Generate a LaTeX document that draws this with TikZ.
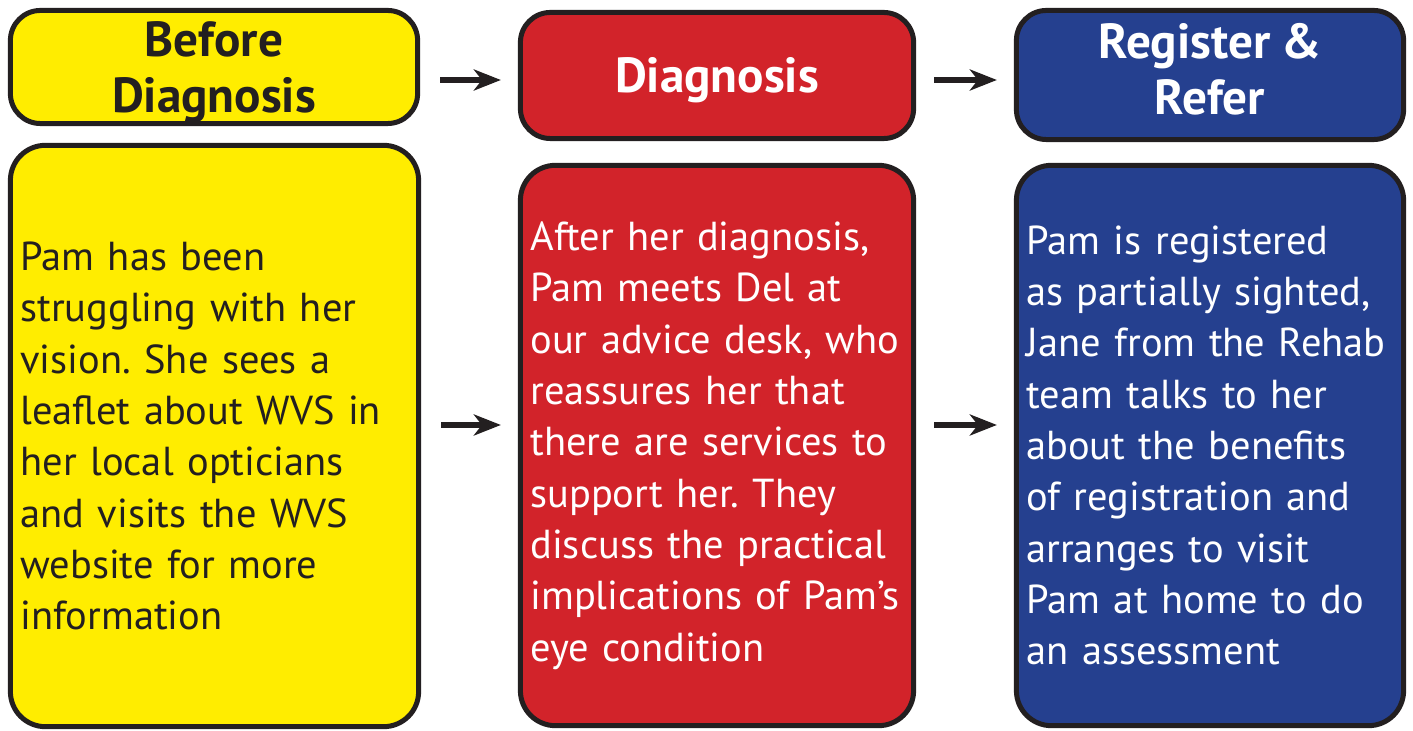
\documentclass[tikz,border=0pt]{standalone}
\usepackage{fontspec}
\setmainfont{PT Sans}[WordSpace=0.85]
\usetikzlibrary{positioning, arrows.meta}
\definecolor{wvsyellow}{HTML}{FFED00}
\definecolor{wvsred}{HTML}{D2232A}
\definecolor{wvsblue}{HTML}{25408F}
\definecolor{wvsline}{HTML}{231F20}
\frenchspacing
\begin{document}
\begin{tikzpicture}[x=0.01cm, y=-0.01cm,
  stage/.style={draw=wvsline, line width=0.05cm, rounded corners=0.3cm, align=center, inner sep=0pt, text depth=0pt,
    font=\bfseries\fontsize{14}{16}\selectfont},
  story/.style={draw=wvsline, line width=0.05cm, rounded corners=0.35cm, align=left, inner xsep=0.1cm,
    font=\fontsize{11.5}{14.6}\selectfont},
  flow/.style={-{Stealth[length=0.27cm, width=0.21cm, inset=0.08cm]}, line width=0.06cm, draw=wvsline},
]
  \useasboundingbox (0,0) rectangle (1413,731);

  % headers
  \node[stage, fill=wvsyellow, text=wvsline, minimum width=4.07cm, minimum height=1.13cm] (before) at (214,67) {Before\\Diagnosis};
  \node[stage, fill=wvsred, text=white, minimum width=3.93cm, minimum height=1.26cm] (diag) at (717,75.5) {Diagnosis};
  \node[stage, fill=wvsblue, text=white, minimum width=3.87cm, minimum height=1.29cm, text depth=0.12cm] (refer) at (1210,75) {Register \&\\Refer};

  % stories
  \node[story, fill=wvsyellow, text=wvsline, text width=3.88cm, minimum height=5.81cm] (beforetext) at (214.5,436)
    {Pam has been\\struggling with her\\vision. She sees a\\leaflet about WVS in\\her local opticians\\and visits the WVS\\website for more\\information};
  \node[story, fill=wvsred, text=white, text width=3.73cm, minimum height=5.60cm] (diagtext) at (717,445.5)
    {After her diagnosis,\\Pam meets Del at\\our advice desk, who\\reassures her that\\there are services to\\support her. They\\discuss the practical\\implications of Pam’s\\eye condition};
  \node[story, fill=wvsblue, text=white, text width=3.67cm, minimum height=5.60cm] (refertext) at (1210,445.5)
    {Pam is registered\\as partially sighted,\\Jane from the Rehab\\team talks to her\\about the benefits\\of registration and\\arranges to visit\\Pam at home to do\\an assessment};

  % arrows
  \draw[flow, shorten <=0.2cm, shorten >=0.17cm] ([yshift=-0.13cm]before.east) -- ([yshift=-0.13cm]before.east -| diag.west);
  \draw[flow, shorten <=0.18cm, shorten >=0.17cm] ([yshift=-0.045cm]diag.east) -- ([yshift=-0.045cm]diag.east -| refer.west);
  \draw[flow, shorten <=0.2cm, shorten >=0.17cm] ([yshift=0.11cm]beforetext.east) -- ([yshift=0.11cm]beforetext.east -| diagtext.west);
  \draw[flow, shorten <=0.18cm, shorten >=0.17cm] ([yshift=0.205cm]diagtext.east) -- ([yshift=0.205cm]diagtext.east -| refertext.west);
\end{tikzpicture}
\end{document}
